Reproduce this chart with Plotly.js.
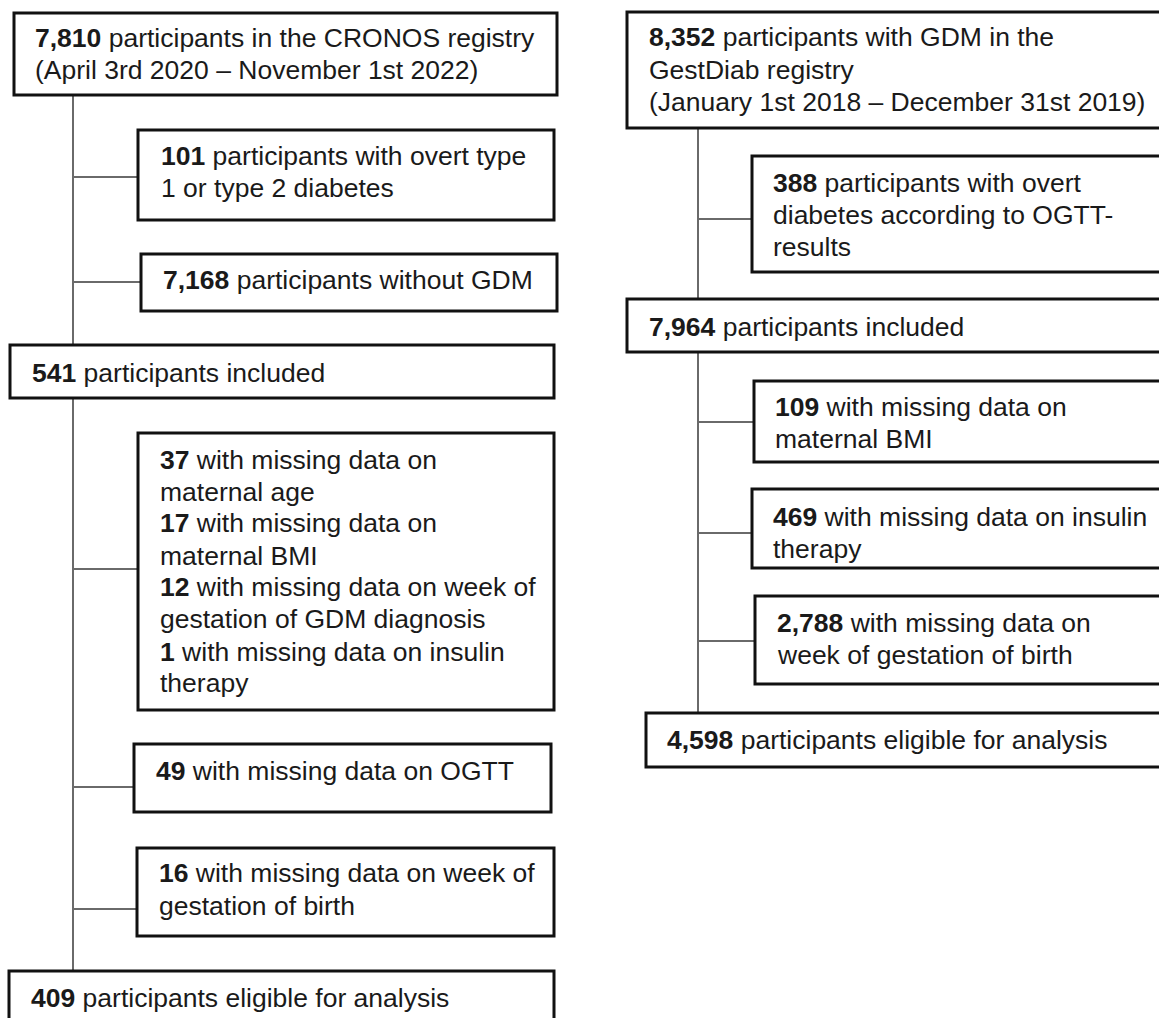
<!DOCTYPE html>
<html>
<head>
<meta charset="utf-8">
<script src="https://cdn.plot.ly/plotly-3.0.1.min.js"></script>
<style>html,body{margin:0;padding:0;background:#fff;}#chart{width:1159px;height:1018px;}</style>
</head>
<body>
<div id="chart"></div>
<script>
// ---------- DATA: flowchart box contents ----------
const cronosCounts = ['7,810', '101', '7,168', '541', null, '49', '16', '409'];
const cronosLines = [
  ['<b>7,810</b> participants in the CRONOS registry', '(April 3rd 2020 – November 1st 2022)'],
  ['<b>101</b> participants with overt type', '1 or type 2 diabetes'],
  ['<b>7,168</b> participants without GDM'],
  ['<b>541</b> participants included'],
  ['<b>37</b> with missing data on', 'maternal age',
   '<b>17</b> with missing data on', 'maternal BMI',
   '<b>12</b> with missing data on week of', 'gestation of GDM diagnosis',
   '<b>1</b> with missing data on insulin', 'therapy'],
  ['<b>49</b> with missing data on OGTT'],
  ['<b>16</b> with missing data on week of', 'gestation of birth'],
  ['<b>409</b> participants eligible for analysis']
];
const gestdiabCounts = ['8,352', '388', '7,964', '109', '469', '2,788', '4,598'];
const gestdiabLines = [
  ['<b>8,352</b> participants with GDM in the', 'GestDiab registry', '(January 1st 2018 – December 31st 2019)'],
  ['<b>388</b> participants with overt', 'diabetes according to OGTT-', 'results'],
  ['<b>7,964</b> participants included'],
  ['<b>109</b> with missing data on', 'maternal BMI'],
  ['<b>469</b> with missing data on insulin', 'therapy'],
  ['<b>2,788</b> with missing data on', 'week of gestation of birth'],
  ['<b>4,598</b> participants eligible for analysis']
];

// ---------- GEOMETRY (layout only) ----------
// [x0, y0, x1, y1], text x, line y centres, connector y (null = main box)
const leftGeom = [
  {r:[14,13,557,95],   tx:34,  ly:[38,70], c:null},
  {r:[138,130,554,220],tx:160, ly:[156,188], c:177},
  {r:[141,254,557,311],tx:162, ly:[280], c:282},
  {r:[10,345,554,398], tx:31,  ly:[373], c:null},
  {r:[138,433,554,710],tx:159, ly:[460,492,523,556,587,619,652,683], c:569},
  {r:[134,744,551,812],tx:155, ly:[771], c:787},
  {r:[137,848,554,936],tx:158, ly:[873,906], c:909},
  {r:[9,971,554,1040], tx:30,  ly:[998], c:null}
];
const leftSpineX = 73;
const rightGeom = [
  {r:[627,12,1180,128], tx:648, ly:[37,70,102], c:null},
  {r:[752,156,1180,272],tx:772, ly:[183,215,247], c:219},
  {r:[627,299,1180,352],tx:648, ly:[327], c:null},
  {r:[754,381,1180,462],tx:774, ly:[407,439], c:422},
  {r:[752,489,1180,568],tx:772, ly:[517,549], c:533},
  {r:[755,596,1180,684],tx:776, ly:[623,655], c:641},
  {r:[646,713,1180,767],tx:666, ly:[740], c:null}
];
const rightSpineX = 698;

const FONT = {family:'"Liberation Sans", Arial, Helvetica, sans-serif', size:26.5, color:'#1a1a1a'};
const BOX_LINE = {color:'#111111', width:3};
const CONN_LINE = {color:'#6a6a6a', width:2};

const shapes = [];
const annotations = [];

function buildColumn(lines, geom, spineX) {
  // spine segments between consecutive main boxes
  const mains = geom.filter(g => g.c === null);
  for (let i = 0; i < mains.length - 1; i++) {
    shapes.push({type:'line', xref:'x', yref:'y', x0:spineX, x1:spineX,
      y0:mains[i].r[3], y1:mains[i+1].r[1], line:CONN_LINE, layer:'below'});
  }
  geom.forEach((g, i) => {
    if (g.c !== null) {
      shapes.push({type:'line', xref:'x', yref:'y', x0:spineX, x1:g.r[0],
        y0:g.c, y1:g.c, line:CONN_LINE, layer:'below'});
    }
    shapes.push({type:'rect', xref:'x', yref:'y', x0:g.r[0], y0:g.r[1], x1:g.r[2], y1:g.r[3],
      line:BOX_LINE, fillcolor:'rgba(255,255,255,0)', layer:'above'});
    lines[i].forEach((t, k) => {
      annotations.push({xref:'x', yref:'y', x:g.tx, y:g.ly[k], text:t, showarrow:false,
        xanchor:'left', yanchor:'middle', align:'left', font:FONT, borderpad:0});
    });
  });
}
buildColumn(cronosLines, leftGeom, leftSpineX);
buildColumn(gestdiabLines, rightGeom, rightSpineX);

const layout = {
  width:1159, height:1018,
  margin:{l:0, r:0, t:0, b:0, pad:0},
  paper_bgcolor:'#ffffff', plot_bgcolor:'#ffffff',
  xaxis:{range:[0,1159], visible:false, fixedrange:true},
  yaxis:{range:[1018,0], visible:false, fixedrange:true},
  showlegend:false,
  shapes:shapes,
  annotations:annotations
};
Plotly.newPlot('chart', [], layout, {displayModeBar:false, staticPlot:true});
</script>
</body>
</html>
